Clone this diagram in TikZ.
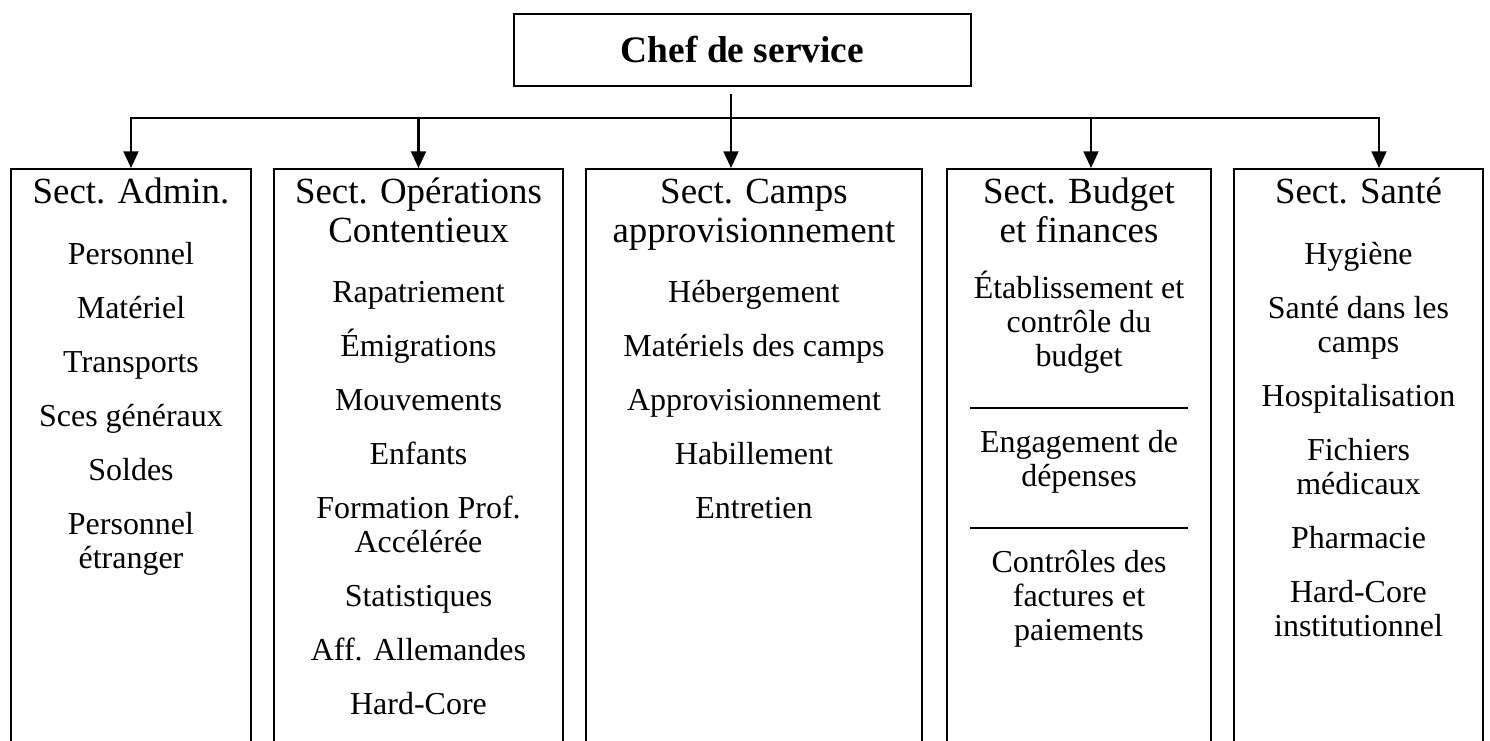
\documentclass[tikz,border=0pt]{standalone}
\usepackage{fontspec}
\setmainfont{Liberation Serif}
\usetikzlibrary{arrows.meta}
\tikzset{
  secbox/.style={draw,line width=1pt,inner sep=0pt,anchor=north,minimum height=12.4cm},
  headtxt/.style={anchor=base,inner sep=0pt,font=\fontsize{21}{23}\selectfont},
  itemtxt/.style={anchor=base,inner sep=0pt,font=\fontsize{18.2}{19}\selectfont},
  link/.style={line width=1.2pt}
}
\begin{document}
\begin{tikzpicture}[x=.02cm,y=-.02cm,>={Triangle[length=9.5pt,width=8.5pt]}]
  \useasboundingbox (0,0) rectangle (1490,740);
  \clip (0,0) rectangle (1490,740);
  \node[draw,line width=1pt,minimum width=9.14cm,minimum height=1.44cm,inner sep=0pt,
        font=\bfseries\fontsize{21.3}{24}\selectfont](chef) at(742.5,50){Chef de service};
  \node[secbox,minimum width=4.8cm](s1) at(131,168){};
  \node[secbox,minimum width=5.78cm](s2) at(418.5,168){};
  \node[secbox,minimum width=6.72cm](s3) at(754,168){};
  \node[secbox,minimum width=5.28cm](s4) at(1079,168){};
  \node[secbox,minimum width=4.98cm](s5) at(1358.5,168){};
  \coordinate(top) at(731,94);
  \coordinate(b1) at(131,118);
  \coordinate(b2) at(418.5,118);
  \coordinate(b4) at(1091,118);
  \coordinate(b5) at(1379,118);
  \draw[link,line cap=rect](b1)--(b5);
  \draw[link,->](top)--(top|-s3.north);
  \draw[link,->](b1)--(b1|-s1.north);
  \draw[link,->](b2)--(b2|-s2.north);
  \draw[link,->](b4)--(b4|-s4.north);
  \draw[link,->](b5)--(b5|-s5.north);
  \node[headtxt](h1) at(131,203){Sect. Admin.};
  \foreach \t/\y [count=\i] in {Personnel/264,Matériel/318,Transports/372,Sces généraux/426,
      Soldes/480,Personnel/534,étranger/568}
    \node[itemtxt](a\i) at(131,\y){\t};
  \node[headtxt](h2) at(418.5,203){Sect. Opérations};
  \node[headtxt](h2b) at(418.5,242){Contentieux};
  \foreach \t/\y [count=\i] in {Rapatriement/302,Émigrations/356,Mouvements/410,Enfants/464,
      Formation Prof./518,Accélérée/552,Statistiques/606,Aff. Allemandes/660,Hard-Core/714}
    \node[itemtxt](o\i) at(418.5,\y){\t};
  \node[headtxt](h3) at(754,203){Sect. Camps};
  \node[headtxt](h3b) at(754,242){approvisionnement};
  \foreach \t/\y [count=\i] in {Hébergement/302,Matériels des camps/356,Approvisionnement/410,
      Habillement/464,Entretien/518}
    \node[itemtxt](c\i) at(754,\y){\t};
  \node[headtxt](h4) at(1079,203){Sect. Budget};
  \node[headtxt](h4b) at(1079,242){et finances};
  \foreach \t/\y [count=\i] in {Établissement et/298,contrôle du/332,budget/366,Engagement de/452,
      dépenses/486,Contrôles des/572,factures et/606,paiements/640}
    \node[itemtxt](f\i) at(1079,\y){\t};
  \draw[line width=1pt](970,408)--(1188,408);
  \draw[line width=1pt](970,528)--(1188,528);
  \node[headtxt](h5) at(1358.5,203){Sect. Santé};
  \foreach \t/\y [count=\i] in {Hygiène/264,Santé dans les/318,camps/352,Hospitalisation/406,
      Fichiers/460,médicaux/494,Pharmacie/548,Hard-Core/602,institutionnel/636}
    \node[itemtxt](m\i) at(1358.5,\y){\t};
\end{tikzpicture}
\end{document}
